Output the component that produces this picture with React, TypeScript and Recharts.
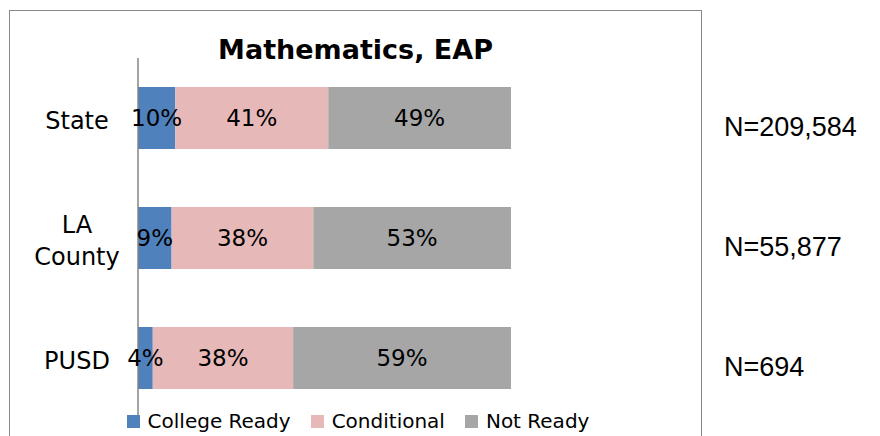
import React from "react";
import { Bar, BarChart, LabelList, Legend, XAxis, YAxis } from "recharts";

const categories = ["State", "LA County", "PUSD"];
const collegeReady = [10, 9, 4];
const conditional = [41, 38, 38];
const notReady = [49, 53, 59];
const sampleSizes = ["N=209,584", "N=55,877", "N=694"];

const series = [
  { key: "college", name: "College Ready", color: "#4F81BD" },
  { key: "conditional", name: "Conditional", color: "#E6B9B8" },
  { key: "notReady", name: "Not Ready", color: "#A6A6A6" },
];

const data = categories.map((name, i) => ({
  name,
  college: collegeReady[i],
  conditional: conditional[i],
  notReady: notReady[i],
  n: sampleSizes[i],
}));

const comicFont = "'Comic Sans MS', 'DejaVu Sans', sans-serif";

function CategoryTick({ x, y, payload }: { x?: number; y?: number; payload?: { value: string } }) {
  const lines = String(payload?.value ?? "").split(" ");
  const lineHeight = 32;
  const cx = (x ?? 0) - 53;
  const start = -((lines.length - 1) * lineHeight) / 2;
  return (
    <text
      x={cx}
      y={(y ?? 0) + 3}
      textAnchor="middle"
      dominantBaseline="central"
      fontFamily={comicFont}
      fontSize={24}
      fill="#000"
    >
      {lines.map((line, i) => (
        <tspan key={line} x={cx} dy={i === 0 ? start : lineHeight}>
          {line}
        </tspan>
      ))}
    </text>
  );
}

function SampleSizeLabel(props: any) {
  const vb = props.viewBox ?? props;
  return (
    <text
      x={vb.x + vb.width + 213}
      y={vb.y + vb.height / 2 + 9}
      dominantBaseline="central"
      fontFamily="'Liberation Sans', Arial, sans-serif"
      fontSize={27}
      fill="#000"
    >
      {props.value}
    </text>
  );
}

function LegendContent() {
  return (
    <div style={{ display: "flex", justifyContent: "center", gap: 20, fontFamily: comicFont, fontSize: 20, color: "#000" }}>
      {series.map((s) => (
        <span key={s.key} style={{ display: "flex", alignItems: "center", lineHeight: "24px" }}>
          <span style={{ width: 13, height: 13, background: s.color, marginRight: 8, display: "inline-block" }} />
          {s.name}
        </span>
      ))}
    </div>
  );
}

export default function App() {
  return (
    <div style={{ position: "relative", width: 872, height: 428, overflow: "hidden" }}>
      <div
        style={{
          position: "absolute",
          left: 1,
          top: 2,
          width: 693,
          height: 500,
          border: "1px solid #888",
          boxSizing: "border-box",
        }}
      />
      <div
        style={{
          position: "absolute",
          left: 1,
          top: 27,
          width: 693,
          textAlign: "center",
          fontFamily: comicFont,
          fontWeight: "bold",
          fontSize: 27,
          lineHeight: "30px",
          zIndex: 2,
        }}
      >
        Mathematics, EAP
      </div>
      <BarChart
        width={872}
        height={428}
        data={data}
        layout="vertical"
        stackOffset="expand"
        barSize={62}
        margin={{ top: 50, right: 369, bottom: 18, left: 0 }}
      >
        <XAxis type="number" hide domain={[0, 1]} />
        <YAxis
          type="category"
          dataKey="name"
          width={130}
          axisLine={{ stroke: "#868686", strokeWidth: 1.5 }}
          tickLine={false}
          tick={<CategoryTick />}
        />
        <Legend
          verticalAlign="middle"
          align="center"
          layout="horizontal"
          content={<LegendContent />}
          wrapperStyle={{ top: 401, left: 100, width: 500 }}
        />
        {series.map((s) => (
          <Bar key={s.key} dataKey={s.key} name={s.name} stackId="a" fill={s.color} isAnimationActive={false}>
            <LabelList
              dataKey={s.key}
              position="center"
              formatter={(v: any) => `${v}%`}
              fill="#000"
              fontSize={23}
              fontFamily={comicFont}
            />
            {s.key === "notReady" && <LabelList dataKey="n" content={<SampleSizeLabel />} />}
          </Bar>
        ))}
      </BarChart>
    </div>
  );
}
